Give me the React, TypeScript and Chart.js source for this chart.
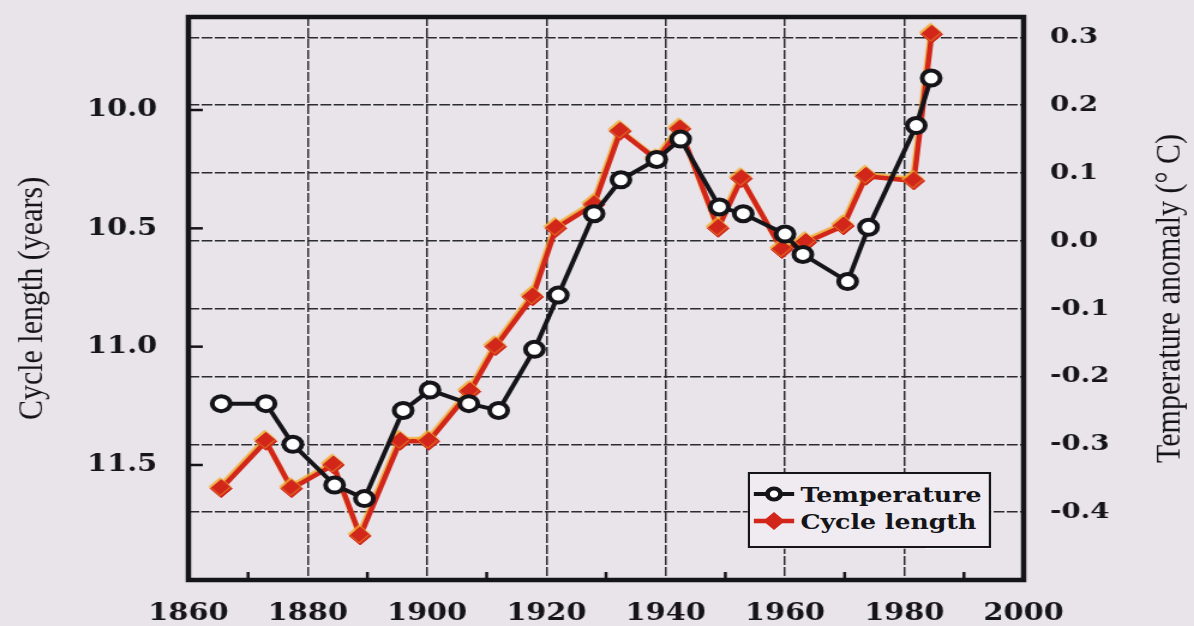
import React, { useEffect, useRef } from 'react';
import { Chart, registerables } from 'chart.js';

Chart.register(...registerables);

// ---------- data ----------
const temperatureYears = [1865.5, 1873.0, 1877.5, 1884.5, 1889.5, 1896.0, 1900.5, 1907.0, 1912.0, 1918.0, 1922.0, 1928.0, 1932.5, 1938.5, 1942.5, 1949.0, 1953.0, 1960.0, 1963.0, 1970.5, 1974.0, 1982.0, 1984.5];
const temperatureValues = [-0.24, -0.24, -0.30, -0.36, -0.38, -0.25, -0.22, -0.24, -0.25, -0.16, -0.08, 0.04, 0.09, 0.12, 0.15, 0.05, 0.04, 0.01, -0.02, -0.06, 0.02, 0.17, 0.24];

const cycleYears = [1865.5, 1873.0, 1877.3, 1884.3, 1888.8, 1895.5, 1900.3, 1907.2, 1911.5, 1917.7, 1921.6, 1928.0, 1932.4, 1938.5, 1942.4, 1948.8, 1952.7, 1959.5, 1963.5, 1969.8, 1973.6, 1981.6, 1984.6];
const cycleLengthValues = [11.60, 11.40, 11.60, 11.50, 11.80, 11.40, 11.40, 11.19, 11.00, 10.79, 10.50, 10.40, 10.09, 10.21, 10.08, 10.50, 10.29, 10.59, 10.56, 10.49, 10.28, 10.30, 9.68];

const seriesNames = ['Temperature', 'Cycle length'];
const axisTitles = ['Cycle length (years)', 'Temperature anomaly (° C)'];

const xTickYears = [1860, 1880, 1900, 1920, 1940, 1960, 1980, 2000];
const xTickLabels = ['1860', '1880', '1900', '1920', '1940', '1960', '1980', '2000'];
const xMinorYears = [1870, 1890, 1910, 1930, 1950, 1970, 1990];

const leftTickValues = [10.0, 10.5, 11.0, 11.5];
const leftTickLabels = ['10.0', '10.5', '11.0', '11.5'];

const rightTickValues = [0.3, 0.2, 0.1, 0.0, -0.1, -0.2, -0.3, -0.4];
const rightTickLabels = ['0.3', '0.2', '0.1', '0.0', '-0.1', '-0.2', '-0.3', '-0.4'];

// ---------- styling ----------
const STRETCH = 1.2;
const OUT_W = 1194;
const OUT_H = 626;
const IN_W = Math.round(OUT_W / STRETCH);
const BG = '#e9e4ea';
const INK = '#141419';
const RED = '#d2261b';
const TICK_FONT = { family: '"DejaVu Serif", serif', weight: 'bold' as const };
const TITLE_FONT = '"Liberation Serif", "Times New Roman", serif';

const framePlugin = {
  id: 'frameAndTicks',
  afterDatasetsDraw(chart: any) {
    const { ctx, chartArea, scales } = chart;
    const { left, right, top, bottom } = chartArea;
    ctx.save();
    ctx.strokeStyle = INK;
    ctx.lineCap = 'butt';
    ctx.lineWidth = 2.5;
    xMinorYears.forEach((yr) => {
      const px = scales.x.getPixelForValue(yr);
      ctx.beginPath();
      ctx.moveTo(px, bottom);
      ctx.lineTo(px, bottom - 8);
      ctx.stroke();
    });
    leftTickValues.forEach((v) => {
      const py = scales.y.getPixelForValue(v);
      ctx.beginPath();
      ctx.moveTo(left, py);
      ctx.lineTo(left + 12, py);
      ctx.stroke();
    });
    ctx.lineWidth = 4.5;
    ctx.strokeRect(left, top, right - left, bottom - top);
    ctx.restore();
  },
  afterDraw(chart: any) {
    const { ctx, chartArea, scales } = chart;
    const t = scales.y2.options.title.text as string;
    ctx.save();
    ctx.fillStyle = INK;
    ctx.font = `30px ${TITLE_FONT}`;
    ctx.textAlign = 'center';
    ctx.textBaseline = 'middle';
    ctx.translate(975, (chartArea.top + chartArea.bottom) / 2);
    ctx.rotate(-Math.PI / 2);
    ctx.fillText(t, 0, 0);
    ctx.restore();
  },
};

const haloPlugin = {
  id: 'redHalo',
  beforeDatasetDraw(chart: any, args: any) {
    if (args.index === 1) {
      const ctx = chart.ctx;
      ctx.save();
      ctx.shadowColor = 'rgba(238,168,40,0.85)';
      ctx.shadowOffsetX = -1;
      ctx.shadowOffsetY = -2;
      ctx.shadowBlur = 1;
    }
  },
  afterDatasetDraw(chart: any, args: any) {
    if (args.index === 1) chart.ctx.restore();
  },
};

const noPad = (s: any) => {
  s.paddingTop = 0;
  s.paddingBottom = 0;
  s.paddingLeft = 0;
  s.paddingRight = 0;
};

export default function App() {
  const canvasRef = useRef<HTMLCanvasElement | null>(null);

  useEffect(() => {
    const canvas = canvasRef.current;
    if (!canvas) return;
    const gridDash = [9, 2];
    const chart = new Chart(canvas, {
      type: 'line',
      data: {
        datasets: [
          {
            label: seriesNames[0],
            data: temperatureYears.map((x, i) => ({ x, y: temperatureValues[i] })),
            xAxisID: 'x',
            yAxisID: 'y2',
            borderColor: INK,
            borderWidth: 4,
            pointStyle: 'circle',
            pointRadius: 7.5,
            pointBorderWidth: 4,
            pointBackgroundColor: '#ffffff',
            pointBorderColor: INK,
            tension: 0,
          },
          {
            label: seriesNames[1],
            data: cycleYears.map((x, i) => ({ x, y: cycleLengthValues[i] })),
            xAxisID: 'x',
            yAxisID: 'y',
            borderColor: RED,
            borderWidth: 4.5,
            pointStyle: 'rectRot',
            pointRadius: 9,
            pointBorderWidth: 1,
            pointBackgroundColor: RED,
            pointBorderColor: RED,
            tension: 0,
          },
        ],
      },
      options: {
        animation: false,
        responsive: false,
        devicePixelRatio: 1,
        events: [],
        layout: { padding: { top: 17, left: 0, right: 0, bottom: 0 } },
        plugins: {
          legend: { display: false },
          tooltip: { enabled: false },
        },
        scales: {
          x: {
            type: 'linear',
            position: 'bottom',
            min: 1860,
            max: 2000,
            afterBuildTicks: (s: any) => {
              s.ticks = xTickYears.map((v) => ({ value: v }));
            },
            afterFit: (s: any) => {
              s.height = 46;
              noPad(s);
            },
            ticks: {
              padding: 19,
              color: INK,
              font: { ...TICK_FONT, size: 24 },
              callback: (v: any) => {
                const i = xTickYears.indexOf(Number(v));
                return i >= 0 ? xTickLabels[i] : '';
              },
            },
            grid: { display: true, color: '#2b2b30', lineWidth: 1.5, drawTicks: false },
            border: { display: false, dash: gridDash },
          },
          y: {
            type: 'linear',
            position: 'left',
            reverse: true,
            min: 9.607,
            max: 11.986,
            afterBuildTicks: (s: any) => {
              s.ticks = leftTickValues.map((v) => ({ value: v }));
            },
            afterFit: (s: any) => {
              s.width = 157;
              noPad(s);
            },
            ticks: {
              padding: 26,
              color: INK,
              font: { ...TICK_FONT, size: 24 },
              callback: (v: any) => {
                const i = leftTickValues.indexOf(Number(v));
                return i >= 0 ? leftTickLabels[i] : '';
              },
            },
            grid: { display: false, drawTicks: false },
            border: { display: false },
            title: {
              display: true,
              text: axisTitles[0],
              color: INK,
              font: { family: TITLE_FONT, size: 30, weight: 'normal' },
              padding: { top: 9, bottom: 0 },
            },
          },
          y2: {
            type: 'linear',
            position: 'right',
            min: -0.5,
            max: 0.33,
            afterBuildTicks: (s: any) => {
              s.ticks = rightTickValues.map((v) => ({ value: v }));
            },
            afterFit: (s: any) => {
              s.width = IN_W - 853;
              noPad(s);
            },
            ticks: {
              padding: 22,
              color: INK,
              font: { ...TICK_FONT, size: 23 },
              callback: (v: any) => {
                const i = rightTickValues.indexOf(Number(v));
                return i >= 0 ? rightTickLabels[i] : '';
              },
            },
            grid: { display: true, color: '#2b2b30', lineWidth: 1.5, drawTicks: false },
            border: { display: false, dash: gridDash },
            title: { display: false, text: axisTitles[1] },
          },
        },
      },
      plugins: [framePlugin, haloPlugin],
    } as any);
    return () => chart.destroy();
  }, []);

  const legendText: React.CSSProperties = {
    position: 'absolute',
    left: 42,
    height: 26,
    lineHeight: '26px',
    fontFamily: '"DejaVu Serif", serif',
    fontWeight: 'bold',
    fontSize: 21,
    color: INK,
    whiteSpace: 'nowrap',
  };

  return (
    <div
      style={{
        position: 'absolute',
        left: 0,
        top: 0,
        width: OUT_W,
        height: OUT_H,
        overflow: 'hidden',
        background: BG,
      }}
    >
      <div
        style={{
          position: 'relative',
          width: IN_W,
          height: OUT_H,
          transform: `scaleX(${OUT_W / IN_W})`,
          transformOrigin: '0 0',
        }}
      >
        <canvas ref={canvasRef} width={IN_W} height={OUT_H} />
        <div
          style={{
            position: 'absolute',
            left: 623,
            top: 472,
            width: 199,
            height: 72,
            border: `2px solid ${INK}`,
            background: '#efebf0',
          }}
        >
          <svg style={{ position: 'absolute', left: 3, top: 10 }} width={34} height={20}>
            <line x1={0} y1={10} x2={34} y2={10} stroke={INK} strokeWidth={4} />
            <circle cx={17} cy={10} r={5.5} fill="#ffffff" stroke={INK} strokeWidth={4} />
          </svg>
          <div style={{ ...legendText, top: 8 }}>{seriesNames[0]}</div>
          <svg style={{ position: 'absolute', left: 3, top: 37 }} width={34} height={20}>
            <line x1={0} y1={10} x2={34} y2={10} stroke={RED} strokeWidth={4.5} />
            <polygon points="17,1 26,10 17,19 8,10" fill={RED} />
          </svg>
          <div style={{ ...legendText, top: 35 }}>{seriesNames[1]}</div>
        </div>
      </div>
    </div>
  );
}
